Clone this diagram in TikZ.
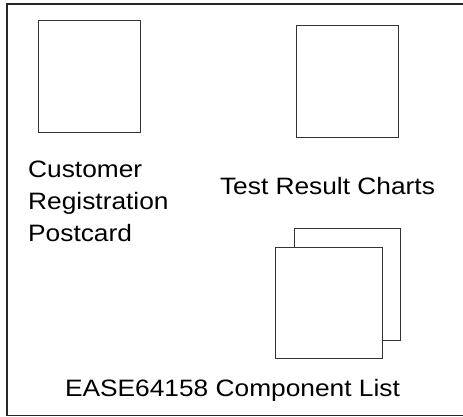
\documentclass[tikz,border=0pt]{standalone}
\usepackage{fontspec}
\setmainfont[FakeStretch=1.11]{Liberation Sans}
\usepackage{tikz}

\begin{document}
\begin{tikzpicture}[
    x=1pt, y=1pt,
    sheet/.style={rectangle, draw=black!80, fill=white, line width=0.9pt, minimum width=102pt, minimum height=112pt, inner sep=0pt},
    caption/.style={font=\fontsize{23.7}{32}\selectfont, inner sep=0pt, text=black},
    frame/.style={draw=black!85, line width=1.6pt}
]
\useasboundingbox (0,0) rectangle (463,417);

% outer frame (open on the right)
\coordinate (frametr) at (463,413);
\coordinate (frametl) at (7,413);
\coordinate (framebl) at (7,1.5);
\coordinate (framebr) at (463,1.5);
\draw[frame] (frametr) -- (frametl) -- (framebl) -- (framebr);

% postcard
\node[sheet] (card) at (89.5,341) {};
\node[caption, anchor=north west, align=left] (cardtext) at (28,256) {Customer\\Registration\\Postcard};

% charts
\node[sheet, minimum height=111.5pt] (chart) at (347,335.75) {};
\node[caption, anchor=base] (charttext) at (327.5,222) {Test Result Charts};

% component list (two sheets)
\node[sheet, minimum width=106pt] (listback) at (347.5,133) {};
\node[sheet, minimum width=106.5pt, minimum height=111pt] (listfront) at (328.75,114.5) {};
\node[caption, anchor=base] (listtext) at (232.5,20) {EASE64158 Component List};

\end{tikzpicture}
\end{document}
